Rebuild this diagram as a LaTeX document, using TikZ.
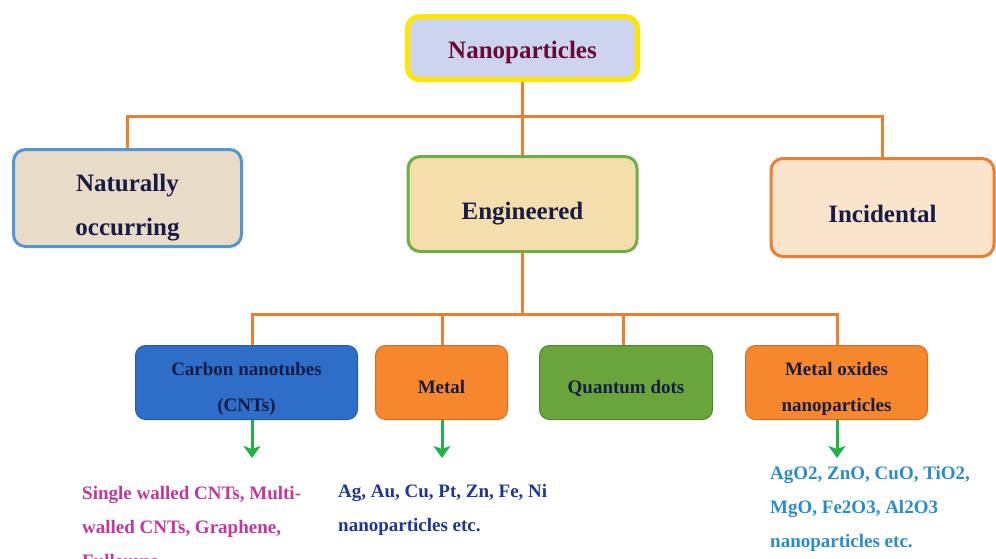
\documentclass[tikz,border=0pt]{standalone}
\usepackage{fontspec}
\setmainfont{Liberation Serif}
\usetikzlibrary{arrows,arrows.meta}
\definecolor{np_orange}{RGB}{237, 125, 49}
\definecolor{np_yellow}{RGB}{255, 230, 0}
\definecolor{np_lilac}{RGB}{205, 212, 240}
\definecolor{np_maroon}{RGB}{105, 10, 50}
\definecolor{np_navy}{RGB}{22, 28, 70}
\definecolor{np_sand}{RGB}{232, 220, 200}
\definecolor{np_sky}{RGB}{85, 150, 210}
\definecolor{np_wheat}{RGB}{244, 222, 172}
\definecolor{np_leaf}{RGB}{112, 173, 71}
\definecolor{np_peach}{RGB}{249, 228, 204}
\definecolor{np_blue}{RGB}{46, 110, 200}
\definecolor{np_blueedge}{RGB}{40, 90, 165}
\definecolor{np_metal}{RGB}{246, 135, 45}
\definecolor{np_metaledge}{RGB}{215, 110, 30}
\definecolor{np_qd}{RGB}{106, 165, 60}
\definecolor{np_qdedge}{RGB}{80, 135, 45}
\definecolor{np_green}{RGB}{30, 178, 72}
\definecolor{np_magenta}{RGB}{195, 55, 155}
\definecolor{np_ink}{RGB}{30, 55, 150}
\definecolor{np_cyan}{RGB}{40, 140, 205}
\tikzstyle{topbox}=[rectangle,rounded corners=12pt,fill=np_lilac,draw=np_yellow,
  line width=5pt,inner sep=0pt,text depth=0pt,text=np_maroon,font=\fontsize{25}{44}\selectfont\bfseries]
\tikzstyle{bigbox}=[rectangle,rounded corners=12pt,line width=3pt,inner sep=0pt,text depth=0pt,
  align=center,text=np_navy,font=\fontsize{25}{43.5}\selectfont\bfseries]
\tikzstyle{smallbox}=[rectangle,rounded corners=10pt,line width=1pt,inner sep=0pt,text depth=0pt,
  align=center,minimum height=74,text=np_navy,font=\fontsize{19}{36}\selectfont\bfseries]
\tikzstyle{note}=[anchor=north west,align=left,inner sep=0pt,
  font=\fontsize{19}{34}\selectfont\bfseries]
\tikzstyle{link}=[draw=np_orange,line width=3pt]
\tikzstyle{down}=[draw=np_green,line width=3pt,-{Stealth[length=12pt,width=17pt,inset=3pt]}]
\tikzstyle{none}=[]

\begin{document}
\begin{tikzpicture}[x=1pt, y=-1pt]
            \useasboundingbox (0, 0) rectangle (996, 558);
            \node [style=topbox, minimum width=230, minimum height=63, text height=20pt] (0) at (522.5, 48) {Nanoparticles};
            \node [style=bigbox, fill=np_sand, draw=np_sky, minimum width=228, minimum height=97, text height=74pt] (1) at (127.5, 198) {Naturally\\occurring};
            \node [style=bigbox, fill=np_wheat, draw=np_leaf, minimum width=229, minimum height=95, text height=30pt] (2) at (522.5, 204) {Engineered};
            \node [style=bigbox, fill=np_peach, draw=np_orange, minimum width=223, minimum height=98, text height=29pt] (3) at (882.5, 207.5) {Incidental};
            \node [style=smallbox, fill=np_blue, draw=np_blueedge, minimum width=222, text height=57pt] (4) at (246.5, 382.5) {Carbon nanotubes\\(CNTs)};
            \node [style=smallbox, fill=np_metal, draw=np_metaledge, minimum width=132, text height=21pt] (5) at (441.5, 382.5) {Metal};
            \node [style=smallbox, fill=np_qd, draw=np_qdedge, minimum width=173, text height=21pt] (6) at (626, 382.5) {Quantum dots};
            \node [style=smallbox, fill=np_metal, draw=np_metaledge, minimum width=182, text height=57pt] (7) at (836.5, 382.5) {Metal oxides\\nanoparticles};
            \node [style=none] (10) at (522.5, 116) {};
            \node [style=none] (20) at (522.5, 314) {};
            \node [style=none] (21) at (252, 314) {};
            \node [style=none] (22) at (442, 314) {};
            \node [style=none] (23) at (623, 314) {};
            \node [style=none] (24) at (837, 314) {};
            \coordinate (31) at (252, 458);
            \coordinate (32) at (442, 458);
            \coordinate (33) at (837, 458);
            \node [style=note, text=np_magenta] (40) at (82, 486) {Single walled CNTs, Multi-\\walled CNTs, Graphene,\\Fullerene.};
            \node [style=note, text=np_ink] (41) at (338, 484.5) {Ag, Au, Cu, Pt, Zn, Fe, Ni\\nanoparticles etc.};
            \node [style=note, text=np_cyan] (42) at (770, 466.5) {AgO2, ZnO, CuO, TiO2,\\MgO, Fe2O3, Al2O3\\nanoparticles etc.};
            \draw [style=link] (0) to (10.center);
            \draw [style=link] (1) |- (10.center) -| (3);
            \draw [style=link] (10.center) to (2);
            \draw [style=link] (2) to (20.center);
            \draw [style=link] (21 |- 4.north) -- (21.center) -- (24.center) -- (24 |- 7.north);
            \draw [style=link] (22.center) to (22 |- 5.north);
            \draw [style=link] (23.center) to (23 |- 6.north);
            \draw [style=down] (31 |- 4.south) to (31);
            \draw [style=down] (32 |- 5.south) to (32);
            \draw [style=down] (33 |- 7.south) to (33);
    \end{tikzpicture}
\end{document}
